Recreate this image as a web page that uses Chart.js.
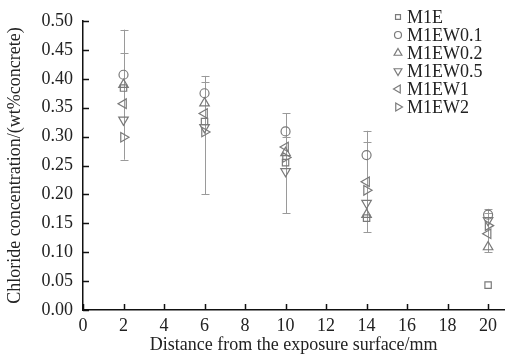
<!DOCTYPE html>
<html>
<head>
<meta charset="utf-8">
<script src="https://cdn.jsdelivr.net/npm/chart.js@4"></script>
<style>
  html, body { margin: 0; padding: 0; background: #fff; }
  #wrap { width: 511px; height: 356px; }
</style>
</head>
<body>
<div id="wrap"><canvas id="chart"></canvas></div>
<script>
// 数据
const distances = [2, 6, 10, 14, 20];
const xTicks = [0, 2, 4, 6, 8, 10, 12, 14, 16, 18, 20];
const yTicks = [0, 0.05, 0.1, 0.15, 0.2, 0.25, 0.3, 0.35, 0.4, 0.45, 0.5];

const seriesNames = ['M1E', 'M1EW0.1', 'M1EW0.2', 'M1EW0.5', 'M1EW1', 'M1EW2'];
const m1e    = [0.384, 0.326, 0.255, 0.159, 0.043];
const m1ew01 = [0.407, 0.375, 0.309, 0.268, 0.165];
const m1ew02 = [0.390, 0.358, 0.272, 0.165, 0.109];
const m1ew05 = [0.329, 0.316, 0.240, 0.185, 0.155];
const m1ew1  = [0.357, 0.340, 0.282, 0.222, 0.132];
const m1ew2  = [0.299, 0.308, 0.264, 0.207, 0.146];

// 误差棒（每个深度一根）
const errHigh  = [0.485, 0.405, 0.340, 0.310, 0.175];
const errHigh2 = [0.445, 0.395, 0.300, 0.290, 0.168];
const errLow   = [0.260, 0.200, 0.167, 0.135, 0.100];

const markerColor = '#7a7a7a';
const serif = '"Liberation Serif", "DejaVu Serif", serif';

const styles = [
    { pointStyle: 'rect', rotation: 0, radius: 4.5 },
    { pointStyle: 'circle', rotation: 0, radius: 4.5 },
    { pointStyle: 'triangle', rotation: 0, radius: 5.5 },
    { pointStyle: 'triangle', rotation: 180, radius: 5.5 },
    { pointStyle: 'triangle', rotation: 270, radius: 5.5 },
    { pointStyle: 'triangle', rotation: 90, radius: 5.5 }
];
const values = [m1e, m1ew01, m1ew02, m1ew05, m1ew1, m1ew2];

const datasets = values.map(function(vals, i) {
    return {
        label: seriesNames[i],
        data: distances.map(function(d, j) { return { x: d, y: vals[j] }; }),
        showLine: false,
        pointStyle: styles[i].pointStyle,
        rotation: styles[i].rotation,
        pointRadius: styles[i].radius,
        pointBorderColor: markerColor,
        pointBackgroundColor: 'rgba(255,255,255,0)',
        pointBorderWidth: 1.2
    };
});

// 误差棒插件
const errorBars = {
    id: 'errorBars',
    beforeDatasetsDraw: function(chart) {
        const ctx = chart.ctx;
        const xs = chart.scales.x, ys = chart.scales.y;
        ctx.save();
        ctx.strokeStyle = '#9a9a9a';
        ctx.lineWidth = 1;
        distances.forEach(function(d, i) {
            const px = Math.round(xs.getPixelForValue(d)) + 0.5;
            const top = ys.getPixelForValue(errHigh[i]);
            const bot = ys.getPixelForValue(errLow[i]);
            ctx.beginPath();
            ctx.moveTo(px, top);
            ctx.lineTo(px, bot);
            [errHigh[i], errHigh2[i], errLow[i]].forEach(function(v) {
                const py = Math.round(ys.getPixelForValue(v)) + 0.5;
                ctx.moveTo(px - 4, py);
                ctx.lineTo(px + 4, py);
            });
            ctx.stroke();
        });
        ctx.restore();
    }
};

// 朝内的刻度线
const insideTicks = {
    id: 'insideTicks',
    afterDraw: function(chart) {
        const ctx = chart.ctx;
        const xs = chart.scales.x, ys = chart.scales.y;
        const area = chart.chartArea;
        ctx.save();
        ctx.strokeStyle = '#111';
        ctx.lineWidth = 1.5;
        ctx.beginPath();
        xTicks.forEach(function(v) {
            const px = Math.round(xs.getPixelForValue(v)) + 0.5;
            ctx.moveTo(px, area.bottom);
            ctx.lineTo(px, area.bottom - 6);
        });
        yTicks.forEach(function(v) {
            const py = Math.round(ys.getPixelForValue(v)) + 0.5;
            ctx.moveTo(area.left, py);
            ctx.lineTo(area.left + 6, py);
        });
        ctx.stroke();
        ctx.restore();
    }
};

// 图例（右上角）
const cornerLegend = {
    id: 'cornerLegend',
    afterDraw: function(chart) {
        const ctx = chart.ctx;
        ctx.save();
        ctx.font = '18px ' + serif;
        ctx.textBaseline = 'middle';
        seriesNames.forEach(function(name, i) {
            const y = 17 + i * 18;
            ctx.fillStyle = 'rgba(255,255,255,0)';
            ctx.strokeStyle = markerColor;
            ctx.lineWidth = 1.2;
            Chart.helpers.drawPoint(ctx, {
                pointStyle: styles[i].pointStyle,
                rotation: styles[i].rotation,
                radius: styles[i].radius - 1,
                borderWidth: 1.2
            }, 398, y);
            ctx.fillStyle = '#222';
            ctx.fillText(name, 407, y + 1);
        });
        ctx.restore();
    }
};

new Chart(document.getElementById('chart'), {
    type: 'scatter',
    data: { datasets: datasets },
    plugins: [errorBars, insideTicks, cornerLegend],
    options: {
        responsive: true,
        maintainAspectRatio: false,
        animation: false,
        layout: { padding: { top: 21, right: 4, left: 0, bottom: 0 } },
        plugins: {
            legend: { display: false },
            tooltip: { enabled: false }
        },
        scales: {
            x: {
                type: 'linear',
                min: 0,
                max: 20.8,
                afterBuildTicks: function(axis) {
                    axis.ticks = xTicks.map(function(v) { return { value: v }; });
                },
                afterFit: function(axis) { axis.height = 46; },
                grid: { display: false, drawTicks: false },
                border: { display: true, color: '#111', width: 1.5 },
                ticks: {
                    padding: 5,
                    color: '#222',
                    font: { family: serif, size: 18 },
                    maxRotation: 0
                },
                title: {
                    display: true,
                    text: 'Distance from the exposure surface/mm',
                    color: '#222',
                    font: { family: serif, size: 18 },
                    padding: { top: 0, bottom: 0 }
                }
            },
            y: {
                type: 'linear',
                min: 0,
                max: 0.5,
                afterBuildTicks: function(axis) {
                    axis.ticks = yTicks.map(function(v) { return { value: v }; });
                },
                afterFit: function(axis) { axis.width = 83; },
                grid: { display: false, drawTicks: false },
                border: { display: true, color: '#111', width: 1.5 },
                ticks: {
                    padding: 10,
                    color: '#222',
                    font: { family: serif, size: 18 },
                    callback: function(v) { return v.toFixed(2); }
                },
                title: {
                    display: true,
                    text: 'Chloride concentration/(wt%concrete)',
                    color: '#222',
                    font: { family: serif, size: 18 },
                    padding: { top: 4, bottom: 0 }
                }
            }
        }
    }
});
</script>
</body>
</html>
